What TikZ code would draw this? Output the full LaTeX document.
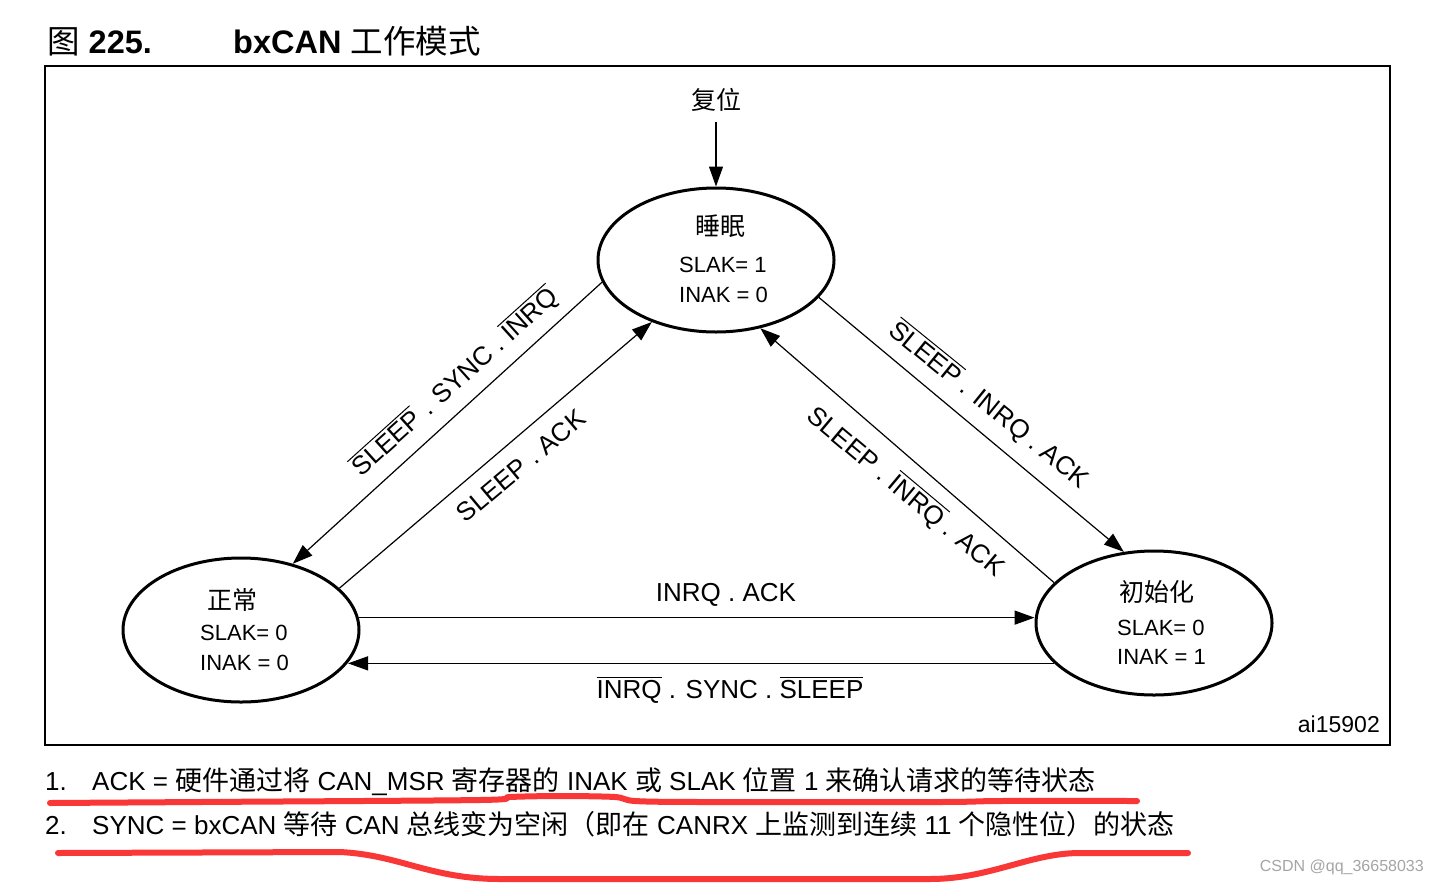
\documentclass[tikz,border=0pt]{standalone}
\usepackage{fontspec}
\setmainfont{Liberation Sans}
\newfontfamily\cjk{Noto Sans CJK SC}
\usetikzlibrary{arrows.meta,shapes.geometric,calc}
\definecolor{pen}{RGB}{250,55,55}
\definecolor{wmgray}{RGB}{165,165,165}
\newcommand\ovl[1]{\leavevmode\vbox{\hrule height 1pt\kern 2.5pt\hbox{#1}}}
\newcommand\zhn[1]{{\cjk\fontsize{27}{30}\selectfont #1}}
\begin{document}
\begin{tikzpicture}[x=1pt,y=-1pt,
  state/.style={draw, ellipse, line width=3pt, minimum width=236pt, minimum height=144pt, inner sep=0pt},
  conn/.style={line width=1.2pt, -{Triangle[length=20pt,width=14pt]}},
  lbl/.style={font=\fontsize{26}{30}\selectfont, inner sep=0pt},
  st/.style={font=\fontsize{22}{26}\selectfont, inner sep=0pt, anchor=west},
  zh/.style={font=\cjk\fontsize{25}{28}\selectfont, inner sep=0pt},
  note/.style={font=\fontsize{26}{30}\selectfont, inner sep=0pt, anchor=base west},
  ttlfont/.style={font=\fontsize{32.5}{36}\selectfont\bfseries, inner sep=0pt, anchor=base west},
  redline/.style={pen, line width=6pt, line cap=round, line join=round}]
\useasboundingbox (0,0) rectangle (1439,883);
\fill[white] (0,0) rectangle (1439,883);
% title
\node[ttlfont] (fig) at (47,53) {{\cjk\mdseries 图} 225.};
\node[ttlfont] (ttl) at (233,53) {bxCAN {\cjk\mdseries 工作模式}};
% frame
\node[draw, line width=2pt, minimum width=1345pt, minimum height=679pt, inner sep=0pt] (frame) at (717.5,405.5) {};
% states
\node[state] (s) at (716,260) {};
\node[state] (n) at (241,630) {};
\node[state] (i) at (1154,623) {};
\node[zh] (s1) at (720,226) {睡眠};
\node[st] (s2) at (679,265) {SLAK= 1};
\node[st] (s3) at (679,295) {INAK = 0};
\node[zh] (n1) at (232,600) {正常};
\node[st] (n2) at (200,633) {SLAK= 0};
\node[st] (n3) at (200,663) {INAK = 0};
\node[zh] (i1) at (1157,592) {初始化};
\node[st] (i2) at (1117,628) {SLAK= 0};
\node[st] (i3) at (1117,657) {INAK = 1};
% reset
\node[zh] (rst) at (716,100) {复位};
\draw[conn] ([yshift=-10pt]rst.south) -- (s.north);
% connectors
\draw[conn] (s.191) -- (n.52);
\draw[conn] (n.23.5) -- (s.224);
\draw[conn] (s.340) -- (i.113);
\draw[conn] (i.158.5) -- (s.303);
\draw[conn, line width=1.6pt] (n.6) -- (n.6 -| i.west);
\draw[conn] (i.202) -- (n.-17 |- i.202);
% labels
\node[lbl, rotate=42] (la) at (455,382) {\ovl{SLEEP} . SYNC . \ovl{INRQ}};
\node[lbl, rotate=40] (lb) at (521,466) {SLEEP . ACK};
\node[lbl, rotate=-39] (lc) at (989,405) {\ovl{SLEEP} . INRQ . ACK};
\node[lbl, rotate=-40] (ld) at (906,492) {SLEEP . \ovl{INRQ} . ACK};
\node[lbl] (le) at (726,595) {INRQ . ACK};
\node[lbl] (lf) at (730,690) {\ovl{INRQ} . SYNC . \ovl{SLEEP}};
\node[anchor=base east, inner sep=0pt, font=\fontsize{23}{26}\selectfont] (id) at (1380,732) {ai15902};
% notes
\node[note] (f1n) at (45,790) {1.};
\node[note] (f1) at (92,790) {ACK = \zhn{硬件通过将} CAN\_MSR \zhn{寄存器的} INAK \zhn{或} SLAK \zhn{位置} 1 \zhn{来确认请求的等待状态}};
\node[note] (f2n) at (45,834) {2.};
\node[note] (f2) at (92,834) {SYNC = bxCAN \zhn{等待} CAN \zhn{总线变为空闲（即在} CANRX \zhn{上监测到连续} 11 \zhn{个隐性位）的状态}};
\node[anchor=base east, inner sep=0pt, text=wmgray, font=\fontsize{16}{18}\selectfont] (wm) at (1424,871) {CSDN @qq\_36658033};
% red hand-drawn underlines
\draw[redline] plot[smooth, tension=0.5] coordinates {(50,803) (200,802) (480,800) (510,797) (560,796) (615,797) (635,801) (700,802) (940,802) (1000,801) (1137,801)};
\draw[redline] (58,853) -- (340,852) .. controls (400,855) and (430,879) .. (500,879) -- (930,879) .. controls (990,879) and (1030,853) .. (1080,853) -- (1188,853);
\end{tikzpicture}
\end{document}
